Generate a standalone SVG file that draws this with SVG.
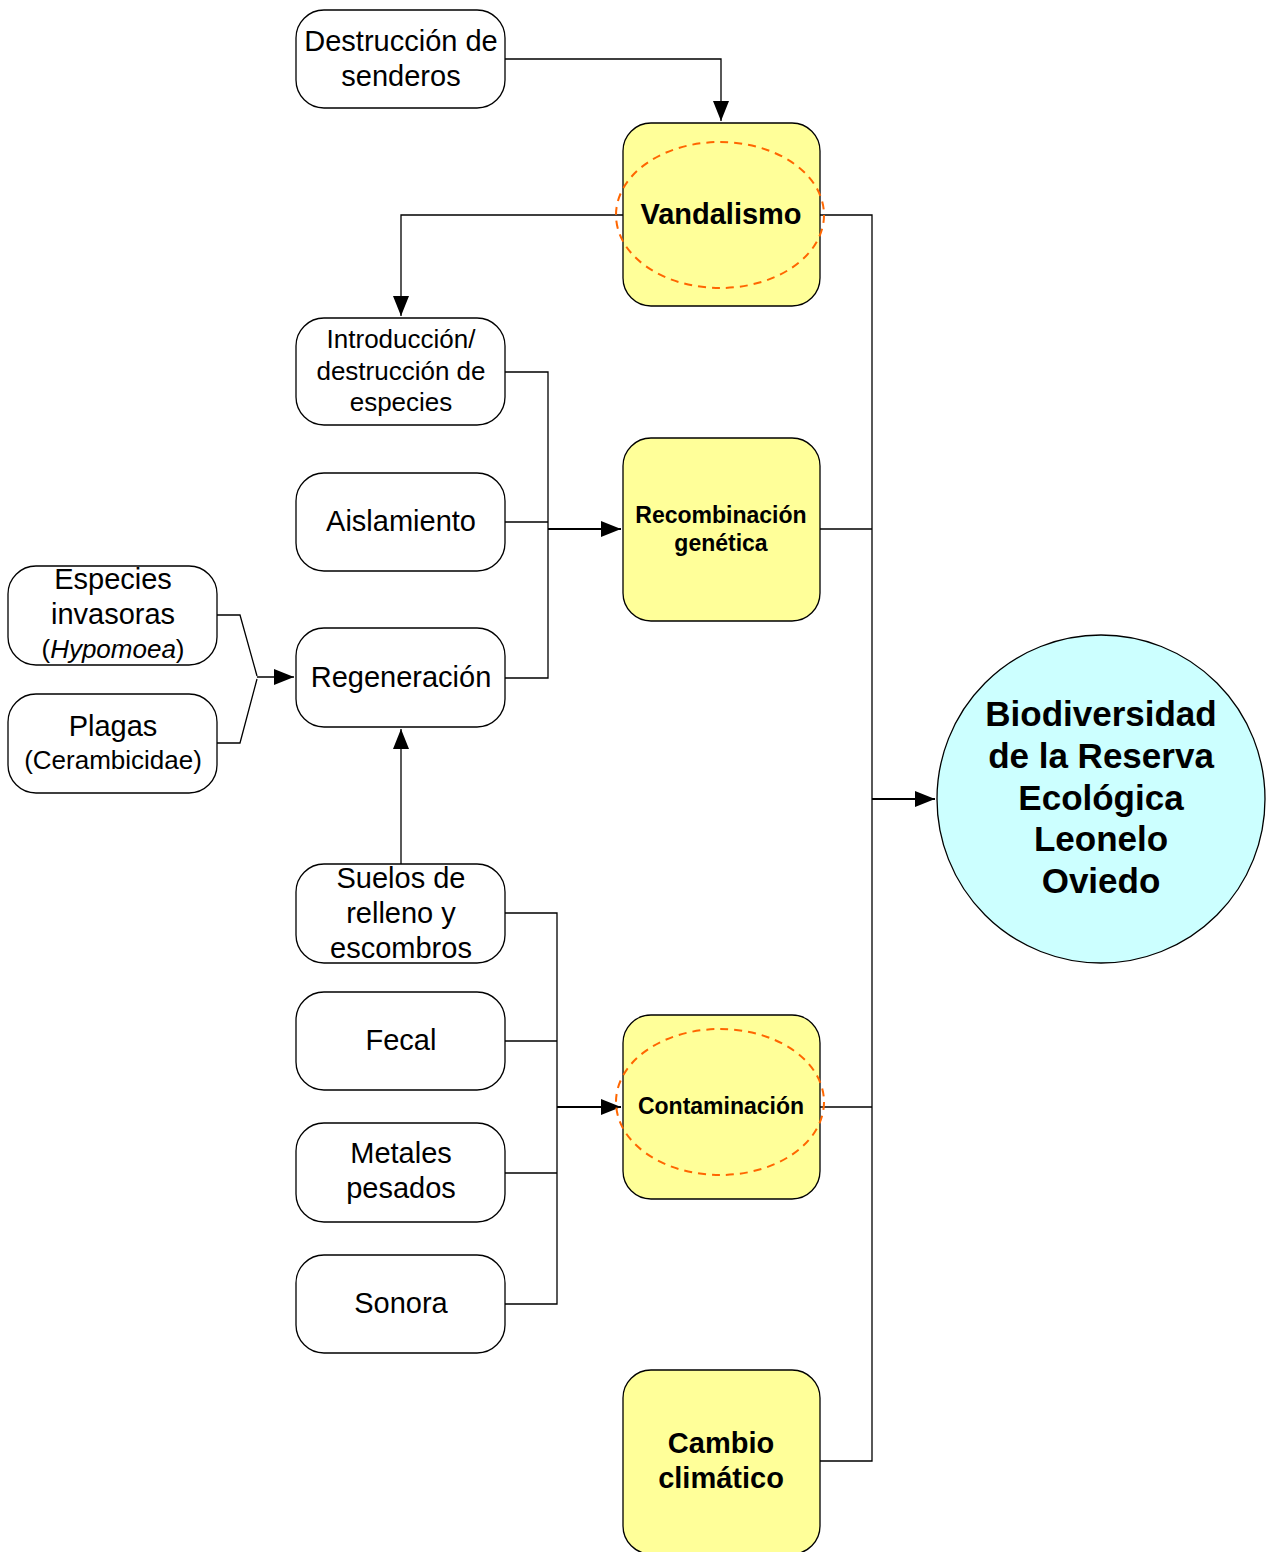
<svg xmlns="http://www.w3.org/2000/svg" width="1270" height="1552" viewBox="0 0 1270 1552">
<style>
.w{fill:#fff;stroke:#000;stroke-width:1.3}
.y{fill:#ffff99;stroke:#000;stroke-width:1.3}
.el{fill:none;stroke:#ff6600;stroke-width:2;stroke-dasharray:8,6}
.c{fill:none;stroke:#000;stroke-width:1.3}
.t{font-family:"Liberation Sans",Arial,sans-serif;font-size:29px;text-anchor:middle;fill:#000}
.s{font-size:26px}
.b{font-weight:bold}
</style>
<defs>
<marker id="ah" markerUnits="userSpaceOnUse" markerWidth="22" markerHeight="16" refX="20" refY="8" orient="auto">
<path d="M0,0 L20,8 L0,16 Z" fill="#000"/>
</marker>
</defs>
<g id="connectors">
<path class="c" d="M505,59 H721 V121" marker-end="url(#ah)"/>
<path class="c" d="M623,215 H401 V316" marker-end="url(#ah)"/>
<path class="c" d="M820,215 H872 V1461 H820"/>
<path class="c" d="M820,529 H872"/>
<path class="c" d="M820,1107 H872"/>
<path class="c" d="M872,799 H935" marker-end="url(#ah)" style="stroke-width:2"/>
<path class="c" d="M505,372 H548 V678 H505"/>
<path class="c" d="M505,522 H548"/>
<path class="c" d="M548,529 H621" marker-end="url(#ah)" style="stroke-width:2"/>
<path class="c" d="M505,913 H557 V1304 H505"/>
<path class="c" d="M505,1041 H557"/>
<path class="c" d="M505,1173 H557"/>
<path class="c" d="M557,1107 H621" marker-end="url(#ah)" style="stroke-width:2"/>
<path class="c" d="M217,615 H240 L257,676"/>
<path class="c" d="M217,743 H240 L257,679"/>
<path class="c" d="M257,677 H294" marker-end="url(#ah)"/>
<path class="c" d="M401,864 V729" marker-end="url(#ah)"/>
</g>
<g id="n-destruccion"><rect class="w" x="296" y="10" width="209" height="98" rx="28"/><text class="t" x="401" y="51">Destrucción de</text><text class="t" x="401" y="86">senderos</text></g>
<g id="n-vandalismo"><rect class="y" x="623" y="123" width="197" height="183" rx="28"/><ellipse class="el" cx="720" cy="215" rx="104" ry="73"/><text class="t b" x="721" y="224" style="font-size:29px">Vandalismo</text></g>
<g id="n-introduccion"><rect class="w" x="296" y="318" width="209" height="107" rx="28"/><text class="t s" x="401" y="348">Introducción/</text><text class="t s" x="401" y="380">destrucción de</text><text class="t s" x="401" y="411">especies</text></g>
<g id="n-aislamiento"><rect class="w" x="296" y="473" width="209" height="98" rx="28"/><text class="t" x="401" y="531">Aislamiento</text></g>
<g id="n-recombinacion"><rect class="y" x="623" y="438" width="197" height="183" rx="28"/><text class="t b" x="721" y="523" style="font-size:23px">Recombinación</text><text class="t b" x="721" y="551" style="font-size:23px">genética</text></g>
<g id="n-especies"><rect class="w" x="8" y="566" width="209" height="99" rx="28"/><text class="t" x="113" y="589">Especies</text><text class="t" x="113" y="624">invasoras</text><text class="t s" x="113" y="658">(<tspan font-style="italic">Hypomoea</tspan>)</text></g>
<g id="n-plagas"><rect class="w" x="8" y="694" width="209" height="99" rx="28"/><text class="t" x="113" y="736">Plagas</text><text class="t s" x="113" y="769">(Cerambicidae)</text></g>
<g id="n-regeneracion"><rect class="w" x="296" y="628" width="209" height="99" rx="28"/><text class="t" x="401" y="687">Regeneración</text></g>
<g id="n-biodiversidad"><circle cx="1101" cy="799" r="164" fill="#ccffff" stroke="#000" stroke-width="1.3"/><text class="t b" x="1101" y="726" style="font-size:35px">Biodiversidad</text><text class="t b" x="1101" y="768" style="font-size:35px">de la Reserva</text><text class="t b" x="1101" y="810" style="font-size:35px">Ecológica</text><text class="t b" x="1101" y="851" style="font-size:35px">Leonelo</text><text class="t b" x="1101" y="893" style="font-size:35px">Oviedo</text></g>
<g id="n-suelos"><rect class="w" x="296" y="864" width="209" height="99" rx="28"/><text class="t" x="401" y="888">Suelos de</text><text class="t" x="401" y="923">relleno y</text><text class="t" x="401" y="958">escombros</text></g>
<g id="n-fecal"><rect class="w" x="296" y="992" width="209" height="98" rx="28"/><text class="t" x="401" y="1050">Fecal</text></g>
<g id="n-contaminacion"><rect class="y" x="623" y="1015" width="197" height="184" rx="28"/><ellipse class="el" cx="720" cy="1102" rx="104" ry="73"/><text class="t b" x="721" y="1114" style="font-size:23px">Contaminación</text></g>
<g id="n-metales"><rect class="w" x="296" y="1123" width="209" height="99" rx="28"/><text class="t" x="401" y="1163">Metales</text><text class="t" x="401" y="1198">pesados</text></g>
<g id="n-sonora"><rect class="w" x="296" y="1255" width="209" height="98" rx="28"/><text class="t" x="401" y="1313">Sonora</text></g>
<g id="n-cambio"><rect class="y" x="623" y="1370" width="197" height="184" rx="28"/><text class="t b" x="721" y="1453" style="font-size:29px">Cambio</text><text class="t b" x="721" y="1488" style="font-size:29px">climático</text></g>
</svg>
